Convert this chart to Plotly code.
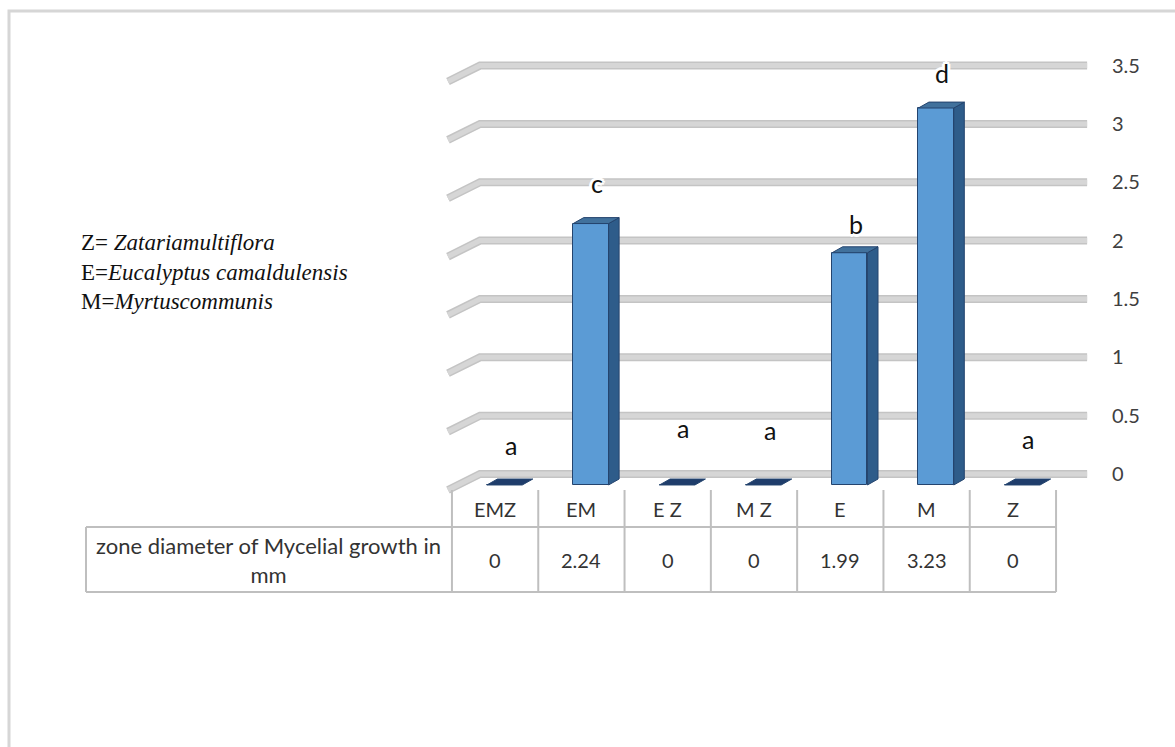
import plotly.graph_objects as go

# ---- data -------------------------------------------------------------
categories = ["EMZ", "EM", "E Z", "M Z", "E", "M", "Z"]
growth_mm = [0, 2.24, 0, 0, 1.99, 3.23, 0]
letters = ["a", "c", "a", "a", "b", "d", "a"]
y_ticks = [0, 0.5, 1, 1.5, 2, 2.5, 3, 3.5]
row_label = "zone diameter of Mycelial growth in<br>mm"
legend_lines = [
    ("Z= ", "Zatariamultiflora"),
    ("E=", "Eucalyptus camaldulensis"),
    ("M=", "Myrtuscommunis"),
]

# ---- layout constants (3-D column look) --------------------------------
W, H = 1175, 747
X0_PX, X_UNIT = 495.1, 86.3       # pixel of category 0, pixels per category
Y0_PX, Y_UNIT = 474.0, 116.7      # pixel of value 0 on back wall, pixels per unit
X_RIGHT_PX = 1100

BAR_SHIFT = 0.11     # bars sit a little right of the column centre
BAR_W = 0.41
DEPTH_X = 0.122
DEPTH_Y = 0.051
FRONT_DROP = 0.094   # front face sits below the back-wall baseline

GRID_LEFT, GRID_BEND, GRID_RIGHT = -0.546, -0.175, 6.86
GRID_SLANT = 0.137

letter_lift = [0.25, 0.25, 0.39, 0.38, 0.15, 0.21, 0.30]
LETTER_DX = 0.18

FRONT = "#5B9BD5"
SIDE = "#2E5C8A"
TOP = "#41719C"
TOP_FLAT = "#1F3D6B"
EDGE = "#24446E"
TABLE_LINE = "#BFBFBF"
TEXT = "#333333"
SANS = "Lato, 'Open Sans', sans-serif"
SERIF = "'Liberation Serif', 'Times New Roman', serif"

x_range = [(0 - X0_PX) / X_UNIT, (X_RIGHT_PX - X0_PX) / X_UNIT]
y_range = [(Y0_PX - H) / Y_UNIT, Y0_PX / Y_UNIT]


def px_y(p):
    """paper y for a pixel row"""
    return 1 - p / H


fig = go.Figure()
shapes = []

# back-wall gridlines with the bent left end (drawn beneath the bars)
for t in y_ticks:
    path = (f"M{GRID_LEFT},{t - GRID_SLANT} L{GRID_BEND},{t} L{GRID_RIGHT},{t}")
    shapes.append(dict(type="path", xref="x", yref="y", path=path, layer="below",
                       line=dict(color="#C4C4C4", width=8)))
    shapes.append(dict(type="path", xref="x", yref="y", path=path, layer="below",
                       line=dict(color="#D6D6D6", width=5)))

# bars: front face
fig.add_trace(go.Bar(
    x=[i + BAR_SHIFT for i in range(len(categories))],
    y=growth_mm, base=-FRONT_DROP, width=BAR_W,
    marker=dict(color=FRONT, line=dict(color=EDGE, width=1)),
    hoverinfo="skip", showlegend=False))

# bars: right side and top
for i, v in enumerate(growth_mm):
    xc = i + BAR_SHIFT
    xl, xr = xc - BAR_W / 2, xc + BAR_W / 2
    yb = -FRONT_DROP
    yt = v - FRONT_DROP
    if v > 0:
        fig.add_trace(go.Scatter(
            x=[xr, xr + DEPTH_X, xr + DEPTH_X, xr, xr],
            y=[yb, yb + DEPTH_Y, yt + DEPTH_Y, yt, yb],
            fill="toself", fillcolor=SIDE, mode="lines",
            line=dict(color=EDGE, width=1), hoverinfo="skip", showlegend=False))
    fig.add_trace(go.Scatter(
        x=[xl, xl + DEPTH_X, xr + DEPTH_X, xr, xl],
        y=[yt, yt + DEPTH_Y, yt + DEPTH_Y, yt, yt],
        fill="toself", fillcolor=TOP if v > 0 else TOP_FLAT, mode="lines",
        line=dict(color=EDGE, width=1), hoverinfo="skip", showlegend=False))

# significance letters
halo = ", ".join(f"white {dx}px {dy}px 0px" for dx, dy in
                 [(3, 0), (-3, 0), (0, 3), (0, -3), (2, 2), (-2, 2), (2, -2), (-2, -2)])
for i, (v, s) in enumerate(zip(growth_mm, letters)):
    fig.add_annotation(
        x=i + LETTER_DX, y=v + letter_lift[i], text=s, showarrow=False,
        font=dict(family=SANS, size=25, color="#111111", shadow=halo),
        xanchor="center", yanchor="middle")

# data table under the chart
ROW_TOP, ROW_MID, ROW_BOT = px_y(490), px_y(527), px_y(592)
TABLE_LEFT = (86 - X0_PX) / X_UNIT
n = len(categories)
for k in range(n + 1):
    shapes.append(dict(type="line", xref="x", yref="paper",
                       x0=k - 0.5, x1=k - 0.5, y0=ROW_TOP, y1=ROW_BOT,
                       line=dict(color=TABLE_LINE, width=2)))
for yy in (ROW_MID, ROW_BOT):
    shapes.append(dict(type="line", xref="x", yref="paper",
                       x0=TABLE_LEFT, x1=n - 0.5, y0=yy, y1=yy,
                       line=dict(color=TABLE_LINE, width=2)))
shapes.append(dict(type="line", xref="x", yref="paper",
                   x0=TABLE_LEFT, x1=TABLE_LEFT, y0=ROW_MID, y1=ROW_BOT,
                   line=dict(color=TABLE_LINE, width=2)))
# outer frame
shapes.append(dict(type="rect", xref="paper", yref="paper",
                   x0=9 / W, x1=1.05, y0=-0.05, y1=px_y(11),
                   line=dict(color="#D6D6D6", width=3)))

for i, (c, v) in enumerate(zip(categories, growth_mm)):
    fig.add_annotation(x=i, y=(ROW_TOP + ROW_MID) / 2, xref="x", yref="paper",
                       text=c, showarrow=False, xanchor="center", yanchor="middle",
                       font=dict(family=SANS, size=20, color=TEXT))
    fig.add_annotation(x=i, y=(ROW_MID + ROW_BOT) / 2, xref="x", yref="paper",
                       text=f"{v:g}", showarrow=False, xanchor="center", yanchor="middle",
                       font=dict(family=SANS, size=20, color=TEXT))
fig.add_annotation(x=(TABLE_LEFT - 0.5) / 2, y=(ROW_MID + ROW_BOT) / 2,
                   xref="x", yref="paper", text=row_label, showarrow=False,
                   align="center", xanchor="center", yanchor="middle",
                   font=dict(family=SANS, size=22, color=TEXT))

# abbreviation key on the left
for k, (abbr, name) in enumerate(legend_lines):
    fig.add_annotation(x=79 / W, y=px_y(242 + 30 * k), xref="paper", yref="paper",
                       text=f"{abbr}<i>{name}</i>", showarrow=False,
                       xanchor="left", yanchor="middle",
                       font=dict(family=SERIF, size=23, color="#111111"))

fig.update_layout(
    width=W, height=H,
    margin=dict(l=0, r=0, t=0, b=0),
    paper_bgcolor="white", plot_bgcolor="white",
    shapes=shapes, bargap=0,
    xaxis=dict(domain=[0, X_RIGHT_PX / W], range=x_range, visible=False,
               fixedrange=True),
    yaxis=dict(range=y_range, side="right", anchor="x",
               tickvals=y_ticks, ticktext=[f"{t:g}" for t in y_ticks],
               showgrid=False, zeroline=False, showline=False,
               ticks="outside", ticklen=7, tickcolor="rgba(0,0,0,0)",
               tickfont=dict(family=SANS, size=20, color="#404040"),
               fixedrange=True),
)

fig.write_html("out.html")
